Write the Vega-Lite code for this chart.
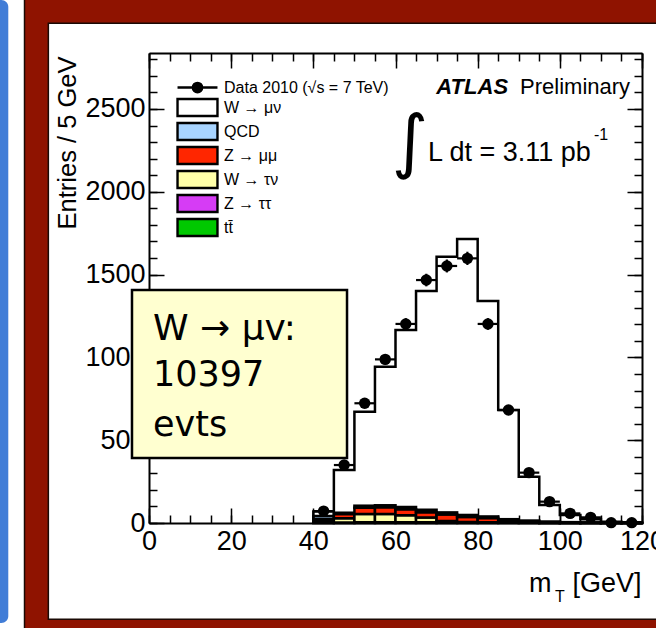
{
  "$schema": "https://vega.github.io/schema/vega-lite/v6.json",
  "width": 493,
  "height": 470,
  "autosize": {"type": "none"},
  "padding": {"left": 149, "top": 53, "right": 14, "bottom": 105},
  "background": "white",
  "config": {
    "view": {"stroke": null},
    "font": "Liberation Sans",
    "text": {"font": "Liberation Sans", "color": "black"},
    "scale": {"continuousPadding": 0},
    "axis": {
      "grid": false,
      "domainColor": "black",
      "domainWidth": 2,
      "tickColor": "black",
      "tickWidth": 1.5,
      "labelFont": "Liberation Sans",
      "labelFontSize": 27,
      "labelColor": "black",
      "labelOverlap": false,
      "labelFlush": false,
      "format": "d",
      "titleFont": "Liberation Sans",
      "titleFontWeight": "normal",
      "titleColor": "black"
    },
    "legend": {
      "orient": "none",
      "legendX": 38.5,
      "legendY": 24.5,
      "padding": 0,
      "symbolType": "M-2.35,-1H2.35V1H-2.35Z",
      "symbolSize": 289,
      "symbolStrokeColor": "black",
      "symbolStrokeWidth": 2.4,
      "labelFont": "Liberation Sans",
      "labelFontSize": 16,
      "labelColor": "black",
      "labelOffset": 16.5,
      "labelLimit": 400,
      "rowPadding": -4
    }
  },
  "resolve": {"axis": {"x": "independent", "y": "independent"}},
  "datasets": {
    "bins": [
      {"lo": 35, "hi": 40, "m": 37.5, "mc": 0, "data": null, "err": null},
      {"lo": 40, "hi": 45, "m": 42.5, "mc": 70, "data": 72, "err": 8.5},
      {"lo": 45, "hi": 50, "m": 47.5, "mc": 320, "data": 350, "err": 19},
      {"lo": 50, "hi": 55, "m": 52.5, "mc": 672, "data": 723, "err": 27},
      {"lo": 55, "hi": 60, "m": 57.5, "mc": 944, "data": 988, "err": 31},
      {"lo": 60, "hi": 65, "m": 62.5, "mc": 1165, "data": 1202, "err": 35},
      {"lo": 65, "hi": 70, "m": 67.5, "mc": 1401, "data": 1467, "err": 38},
      {"lo": 70, "hi": 75, "m": 72.5, "mc": 1608, "data": 1552, "err": 39},
      {"lo": 75, "hi": 80, "m": 77.5, "mc": 1715, "data": 1598, "err": 40},
      {"lo": 80, "hi": 85, "m": 82.5, "mc": 1340, "data": 1202, "err": 35},
      {"lo": 85, "hi": 90, "m": 87.5, "mc": 682, "data": 682, "err": 26},
      {"lo": 90, "hi": 95, "m": 92.5, "mc": 280, "data": 304, "err": 17},
      {"lo": 95, "hi": 100, "m": 97.5, "mc": 109, "data": 129, "err": 11},
      {"lo": 100, "hi": 105, "m": 102.5, "mc": 48, "data": 58, "err": 8},
      {"lo": 105, "hi": 110, "m": 107.5, "mc": 22, "data": 34, "err": 6},
      {"lo": 110, "hi": 115, "m": 112.5, "mc": 8, "data": 2, "err": 1.4},
      {"lo": 115, "hi": 120, "m": 117.5, "mc": 4, "data": 2, "err": 1.4}
    ],
    "bkg": [
      {"lo": 40, "hi": 45, "series": "tt̄", "k": 1, "n": 0.5},
      {"lo": 40, "hi": 45, "series": "Z → ττ", "k": 2, "n": 1.5},
      {"lo": 40, "hi": 45, "series": "W → τν", "k": 3, "n": 12},
      {"lo": 40, "hi": 45, "series": "Z → μμ", "k": 4, "n": 10},
      {"lo": 40, "hi": 45, "series": "QCD", "k": 5, "n": 18},
      {"lo": 45, "hi": 50, "series": "tt̄", "k": 1, "n": 1},
      {"lo": 45, "hi": 50, "series": "Z → ττ", "k": 2, "n": 2},
      {"lo": 45, "hi": 50, "series": "W → τν", "k": 3, "n": 26},
      {"lo": 45, "hi": 50, "series": "Z → μμ", "k": 4, "n": 25},
      {"lo": 45, "hi": 50, "series": "QCD", "k": 5, "n": 8},
      {"lo": 50, "hi": 55, "series": "tt̄", "k": 1, "n": 1.5},
      {"lo": 50, "hi": 55, "series": "Z → ττ", "k": 2, "n": 3},
      {"lo": 50, "hi": 55, "series": "W → τν", "k": 3, "n": 50},
      {"lo": 50, "hi": 55, "series": "Z → μμ", "k": 4, "n": 38},
      {"lo": 50, "hi": 55, "series": "QCD", "k": 5, "n": 12},
      {"lo": 55, "hi": 60, "series": "tt̄", "k": 1, "n": 2},
      {"lo": 55, "hi": 60, "series": "Z → ττ", "k": 2, "n": 3},
      {"lo": 55, "hi": 60, "series": "W → τν", "k": 3, "n": 50},
      {"lo": 55, "hi": 60, "series": "Z → μμ", "k": 4, "n": 40},
      {"lo": 55, "hi": 60, "series": "QCD", "k": 5, "n": 12},
      {"lo": 60, "hi": 65, "series": "tt̄", "k": 1, "n": 2},
      {"lo": 60, "hi": 65, "series": "Z → ττ", "k": 2, "n": 3},
      {"lo": 60, "hi": 65, "series": "W → τν", "k": 3, "n": 42},
      {"lo": 60, "hi": 65, "series": "Z → μμ", "k": 4, "n": 36},
      {"lo": 60, "hi": 65, "series": "QCD", "k": 5, "n": 14},
      {"lo": 65, "hi": 70, "series": "tt̄", "k": 1, "n": 2},
      {"lo": 65, "hi": 70, "series": "Z → ττ", "k": 2, "n": 3},
      {"lo": 65, "hi": 70, "series": "W → τν", "k": 3, "n": 28},
      {"lo": 65, "hi": 70, "series": "Z → μμ", "k": 4, "n": 32},
      {"lo": 65, "hi": 70, "series": "QCD", "k": 5, "n": 15},
      {"lo": 70, "hi": 75, "series": "tt̄", "k": 1, "n": 2},
      {"lo": 70, "hi": 75, "series": "Z → ττ", "k": 2, "n": 2},
      {"lo": 70, "hi": 75, "series": "W → τν", "k": 3, "n": 8},
      {"lo": 70, "hi": 75, "series": "Z → μμ", "k": 4, "n": 40},
      {"lo": 70, "hi": 75, "series": "QCD", "k": 5, "n": 12},
      {"lo": 75, "hi": 80, "series": "tt̄", "k": 1, "n": 2},
      {"lo": 75, "hi": 80, "series": "Z → ττ", "k": 2, "n": 1.5},
      {"lo": 75, "hi": 80, "series": "W → τν", "k": 3, "n": 3},
      {"lo": 75, "hi": 80, "series": "Z → μμ", "k": 4, "n": 30},
      {"lo": 75, "hi": 80, "series": "QCD", "k": 5, "n": 12},
      {"lo": 80, "hi": 85, "series": "tt̄", "k": 1, "n": 1.5},
      {"lo": 80, "hi": 85, "series": "Z → ττ", "k": 2, "n": 1},
      {"lo": 80, "hi": 85, "series": "W → τν", "k": 3, "n": 2},
      {"lo": 80, "hi": 85, "series": "Z → μμ", "k": 4, "n": 25},
      {"lo": 80, "hi": 85, "series": "QCD", "k": 5, "n": 10},
      {"lo": 85, "hi": 90, "series": "tt̄", "k": 1, "n": 1.5},
      {"lo": 85, "hi": 90, "series": "Z → ττ", "k": 2, "n": 0.5},
      {"lo": 85, "hi": 90, "series": "W → τν", "k": 3, "n": 1},
      {"lo": 85, "hi": 90, "series": "Z → μμ", "k": 4, "n": 10},
      {"lo": 85, "hi": 90, "series": "QCD", "k": 5, "n": 10},
      {"lo": 90, "hi": 95, "series": "tt̄", "k": 1, "n": 1},
      {"lo": 90, "hi": 95, "series": "Z → ττ", "k": 2, "n": 0.3},
      {"lo": 90, "hi": 95, "series": "W → τν", "k": 3, "n": 0.5},
      {"lo": 90, "hi": 95, "series": "Z → μμ", "k": 4, "n": 5},
      {"lo": 90, "hi": 95, "series": "QCD", "k": 5, "n": 8},
      {"lo": 95, "hi": 100, "series": "tt̄", "k": 1, "n": 0.5},
      {"lo": 95, "hi": 100, "series": "Z → ττ", "k": 2, "n": 0.2},
      {"lo": 95, "hi": 100, "series": "W → τν", "k": 3, "n": 0.3},
      {"lo": 95, "hi": 100, "series": "Z → μμ", "k": 4, "n": 3},
      {"lo": 95, "hi": 100, "series": "QCD", "k": 5, "n": 5},
      {"lo": 100, "hi": 105, "series": "tt̄", "k": 1, "n": 0.4},
      {"lo": 100, "hi": 105, "series": "Z → ττ", "k": 2, "n": 0.1},
      {"lo": 100, "hi": 105, "series": "W → τν", "k": 3, "n": 0.2},
      {"lo": 100, "hi": 105, "series": "Z → μμ", "k": 4, "n": 1.5},
      {"lo": 100, "hi": 105, "series": "QCD", "k": 5, "n": 3},
      {"lo": 105, "hi": 110, "series": "tt̄", "k": 1, "n": 0.3},
      {"lo": 105, "hi": 110, "series": "Z → ττ", "k": 2, "n": 0.1},
      {"lo": 105, "hi": 110, "series": "W → τν", "k": 3, "n": 0.1},
      {"lo": 105, "hi": 110, "series": "Z → μμ", "k": 4, "n": 1},
      {"lo": 105, "hi": 110, "series": "QCD", "k": 5, "n": 2},
      {"lo": 110, "hi": 115, "series": "tt̄", "k": 1, "n": 0.2},
      {"lo": 110, "hi": 115, "series": "Z → ττ", "k": 2, "n": 0.1},
      {"lo": 110, "hi": 115, "series": "W → τν", "k": 3, "n": 0.1},
      {"lo": 110, "hi": 115, "series": "Z → μμ", "k": 4, "n": 0.3},
      {"lo": 110, "hi": 115, "series": "QCD", "k": 5, "n": 1},
      {"lo": 115, "hi": 120, "series": "tt̄", "k": 1, "n": 0.1},
      {"lo": 115, "hi": 120, "series": "Z → ττ", "k": 2, "n": 0.1},
      {"lo": 115, "hi": 120, "series": "W → τν", "k": 3, "n": 0.1},
      {"lo": 115, "hi": 120, "series": "Z → μμ", "k": 4, "n": 0.2},
      {"lo": 115, "hi": 120, "series": "QCD", "k": 5, "n": 0.5}
    ]
  },
  "layer": [
    {
      "data": {"values": [{}]},
      "mark": {"type": "rect", "color": "#417dd7", "cornerRadius": 7},
      "encoding": {
        "x": {"datum": -46, "scale": {"domain": [0, 120], "nice": false, "padding": 0}, "axis": null},
        "x2": {"datum": -34.25},
        "y": {"datum": 3158, "scale": {"domain": [0, 2838], "nice": false, "padding": 0}, "axis": null},
        "y2": {"datum": -604}
      }
    },
    {
      "data": {"values": [{}]},
      "mark": {"type": "rect", "fillOpacity": 0, "stroke": "#8f1300", "strokeWidth": 24},
      "encoding": {
        "x": {"datum": -27.5, "scale": {"domain": [0, 120], "nice": false}, "axis": null},
        "x2": {"datum": 129.3},
        "y": {"datum": 3090, "scale": {"domain": [0, 2838], "nice": false}, "axis": null},
        "y2": {"datum": -652}
      }
    },
    {
      "data": {"values": [{}]},
      "mark": {"type": "rect", "fillOpacity": 0, "stroke": "#1a0a05", "strokeWidth": 1.5},
      "encoding": {
        "x": {"datum": -30.3, "scale": {"domain": [0, 120], "nice": false}, "axis": null},
        "x2": {"datum": 134},
        "y": {"datum": 3218, "scale": {"domain": [0, 2838], "nice": false}, "axis": null},
        "y2": {"datum": -1069}
      }
    },
    {
      "data": {"values": [{}]},
      "mark": {"type": "rect", "fillOpacity": 0, "stroke": "#1a0a05", "strokeWidth": 1.5},
      "encoding": {
        "x": {"datum": -24.5, "scale": {"domain": [0, 120], "nice": false}, "axis": null},
        "x2": {"datum": 134},
        "y": {"datum": 3017, "scale": {"domain": [0, 2838], "nice": false}, "axis": null},
        "y2": {"datum": -581.5}
      }
    },
    {
      "data": {"name": "bkg"},
      "mark": {"type": "bar", "orient": "vertical", "stroke": "black", "strokeWidth": 2.5},
      "encoding": {
        "x": {"field": "lo", "type": "quantitative", "scale": {"domain": [0, 120], "nice": false, "padding": 0},
              "axis": {"orient": "bottom", "values": [0,5,10,15,20,25,30,35,40,45,50,55,60,65,70,75,80,85,90,95,100,105,110,115,120], "tickSize": -8, "labels": false, "domain": false, "title": null}},
        "x2": {"field": "hi"},
        "y": {"field": "n", "type": "quantitative", "stack": "zero", "scale": {"domain": [0, 2838], "nice": false, "padding": 0},
              "axis": {"orient": "left", "values": [0,100,200,300,400,500,600,700,800,900,1000,1100,1200,1300,1400,1500,1600,1700,1800,1900,2000,2100,2200,2300,2400,2500,2600,2700,2800], "tickSize": -8, "labels": false, "domain": false, "title": null}},
        "fill": {
          "field": "series", "type": "nominal",
          "scale": {
            "domain": ["Data 2010 (√s = 7 TeV)", "W → μν", "QCD", "Z → μμ", "W → τν", "Z → ττ", "tt̄"],
            "range": ["black", "white", "#a8d4ff", "#ff2600", "#ffffa8", "#d63cf5", "#00c800"]
          },
          "legend": {
            "title": null,
            "encode": {
              "symbols": {
                "update": {
                  "shape": {"signal": "datum.value === 'Data 2010 (√s = 7 TeV)' ? 'M-2.35,0H2.35M-0.55,0A0.55,0.55,0,1,1,0.55,0A0.55,0.55,0,1,1,-0.55,0Z' : 'M-2.35,-1H2.35V1H-2.35Z'"},
                  "stroke": {"value": "black"},
                  "strokeWidth": {"value": 2.4}
                }
              }
            }
          }
        },
        "order": {"field": "k", "type": "quantitative"}
      }
    },
    {
      "data": {"name": "bins"},
      "mark": {"type": "line", "interpolate": "step-before", "color": "black", "strokeWidth": 2.5},
      "encoding": {
        "x": {"field": "hi", "type": "quantitative", "scale": {"domain": [0, 120], "nice": false},
              "axis": {"orient": "bottom", "values": [0,20,40,60,80,100,120], "tickSize": -15, "labelPadding": 20, "domain": true, "title": null}},
        "y": {"field": "mc", "type": "quantitative", "scale": {"domain": [0, 2838], "nice": false},
              "axis": {"orient": "left", "values": [0,500,1000,1500,2000,2500], "tickSize": -15, "labelPadding": 19, "domain": true,
                       "title": "Entries / 5 GeV", "titleFontSize": 25.5, "titleAnchor": "end", "titleY": 3, "titlePadding": 4}}
      }
    },
    {
      "data": {"name": "bins"},
      "mark": {"type": "rule", "color": "black", "strokeWidth": 2.2},
      "encoding": {
        "x": {"field": "lo", "type": "quantitative", "scale": {"domain": [0, 120], "nice": false},
              "axis": {"orient": "top", "values": [0,5,10,15,20,25,30,35,40,45,50,55,60,65,70,75,80,85,90,95,100,105,110,115,120], "tickSize": -8, "labels": false, "domain": false, "title": null}},
        "x2": {"field": "hi"},
        "y": {"field": "data", "type": "quantitative", "scale": {"domain": [0, 2838], "nice": false},
              "axis": {"orient": "right", "values": [0,100,200,300,400,500,600,700,800,900,1000,1100,1200,1300,1400,1500,1600,1700,1800,1900,2000,2100,2200,2300,2400,2500,2600,2700,2800], "tickSize": -8, "labels": false, "domain": false, "title": null}}
      }
    },
    {
      "data": {"name": "bins"},
      "mark": {"type": "errorbar", "color": "black", "thickness": 2.2},
      "encoding": {
        "x": {"field": "m", "type": "quantitative", "scale": {"domain": [0, 120], "nice": false}, "axis": null},
        "y": {"field": "data", "type": "quantitative", "scale": {"domain": [0, 2838], "nice": false}, "axis": null},
        "yError": {"field": "err"}
      }
    },
    {
      "data": {"name": "bins"},
      "mark": {"type": "point", "filled": true, "shape": "circle", "color": "black", "size": 130, "opacity": 1},
      "encoding": {
        "x": {"field": "m", "type": "quantitative", "scale": {"domain": [0, 120], "nice": false},
              "axis": {"orient": "top", "values": [0,20,40,60,80,100,120], "tickSize": -15, "labels": false, "domain": true, "title": null}},
        "y": {"field": "data", "type": "quantitative", "scale": {"domain": [0, 2838], "nice": false},
              "axis": {"orient": "right", "values": [0,500,1000,1500,2000,2500], "tickSize": -15, "labels": false, "domain": true, "title": null}}
      }
    },
    {
      "data": {"values": [{}]},
      "mark": {"type": "rect", "fill": "#ffffd0", "stroke": "black", "strokeWidth": 2.5},
      "encoding": {
        "x": {"datum": -4.14, "scale": {"domain": [0, 120], "nice": false}, "axis": null},
        "x2": {"datum": 48.2},
        "y": {"datum": 1407, "scale": {"domain": [0, 2838], "nice": false}, "axis": null},
        "y2": {"datum": 392}
      }
    },
    {
      "data": {"values": [{}]},
      "mark": {"type": "text", "text": "W → μv:", "font": "DejaVu Sans", "fontSize": 36, "align": "left", "baseline": "alphabetic"},
      "encoding": {
        "x": {"datum": 0.97, "scale": {"domain": [0, 120], "nice": false}, "axis": null},
        "y": {"datum": 1105, "scale": {"domain": [0, 2838], "nice": false}, "axis": null}
      }
    },
    {
      "data": {"values": [{}]},
      "mark": {"type": "text", "text": "10397", "font": "DejaVu Sans", "fontSize": 35, "align": "left", "baseline": "alphabetic"},
      "encoding": {
        "x": {"datum": 0.97, "scale": {"domain": [0, 120], "nice": false}, "axis": null},
        "y": {"datum": 827, "scale": {"domain": [0, 2838], "nice": false}, "axis": null}
      }
    },
    {
      "data": {"values": [{}]},
      "mark": {"type": "text", "text": "evts", "font": "DejaVu Sans", "fontSize": 35, "align": "left", "baseline": "alphabetic"},
      "encoding": {
        "x": {"datum": 0.97, "scale": {"domain": [0, 120], "nice": false}, "axis": null},
        "y": {"datum": 525, "scale": {"domain": [0, 2838], "nice": false}, "axis": null}
      }
    },
    {
      "data": {"values": [{}]},
      "mark": {"type": "text", "text": "ATLAS", "fontSize": 22, "fontWeight": "bold", "fontStyle": "italic", "align": "right", "baseline": "alphabetic"},
      "encoding": {
        "x": {"datum": 87.4, "scale": {"domain": [0, 120], "nice": false}, "axis": null},
        "y": {"datum": 2591, "scale": {"domain": [0, 2838], "nice": false}, "axis": null}
      }
    },
    {
      "data": {"values": [{}]},
      "mark": {"type": "text", "text": "Preliminary", "fontSize": 22, "align": "right", "baseline": "alphabetic"},
      "encoding": {
        "x": {"datum": 117.1, "scale": {"domain": [0, 120], "nice": false}, "axis": null},
        "y": {"datum": 2591, "scale": {"domain": [0, 2838], "nice": false}, "axis": null}
      }
    },
    {
      "data": {"values": [{}]},
      "mark": {"type": "text", "text": "∫", "font": "DejaVu Sans", "fontSize": 70, "align": "center", "baseline": "middle"},
      "encoding": {
        "x": {"datum": 63.5, "scale": {"domain": [0, 120], "nice": false}, "axis": null},
        "y": {"datum": 2290, "scale": {"domain": [0, 2838], "nice": false}, "axis": null}
      }
    },
    {
      "data": {"values": [{}]},
      "mark": {"type": "text", "text": "L dt = 3.11 pb", "fontSize": 27, "align": "left", "baseline": "alphabetic"},
      "encoding": {
        "x": {"datum": 67.9, "scale": {"domain": [0, 120], "nice": false}, "axis": null},
        "y": {"datum": 2186, "scale": {"domain": [0, 2838], "nice": false}, "axis": null}
      }
    },
    {
      "data": {"values": [{}]},
      "mark": {"type": "text", "text": "-1", "fontSize": 16, "align": "left", "baseline": "alphabetic"},
      "encoding": {
        "x": {"datum": 108.3, "scale": {"domain": [0, 120], "nice": false}, "axis": null},
        "y": {"datum": 2313, "scale": {"domain": [0, 2838], "nice": false}, "axis": null}
      }
    },
    {
      "data": {"values": [{}]},
      "mark": {"type": "text", "text": "[GeV]", "fontSize": 27, "align": "right", "baseline": "alphabetic"},
      "encoding": {
        "x": {"datum": 119.9, "scale": {"domain": [0, 120], "nice": false}, "axis": null},
        "y": {"datum": -417, "scale": {"domain": [0, 2838], "nice": false}, "axis": null}
      }
    },
    {
      "data": {"values": [{}]},
      "mark": {"type": "text", "text": "m", "fontSize": 27, "align": "right", "baseline": "alphabetic"},
      "encoding": {
        "x": {"datum": 98.0, "scale": {"domain": [0, 120], "nice": false}, "axis": null},
        "y": {"datum": -417, "scale": {"domain": [0, 2838], "nice": false}, "axis": null}
      }
    },
    {
      "data": {"values": [{}]},
      "mark": {"type": "text", "text": "T", "fontSize": 16, "align": "left", "baseline": "alphabetic"},
      "encoding": {
        "x": {"datum": 98.8, "scale": {"domain": [0, 120], "nice": false}, "axis": null},
        "y": {"datum": -475, "scale": {"domain": [0, 2838], "nice": false}, "axis": null}
      }
    }
  ]
}
